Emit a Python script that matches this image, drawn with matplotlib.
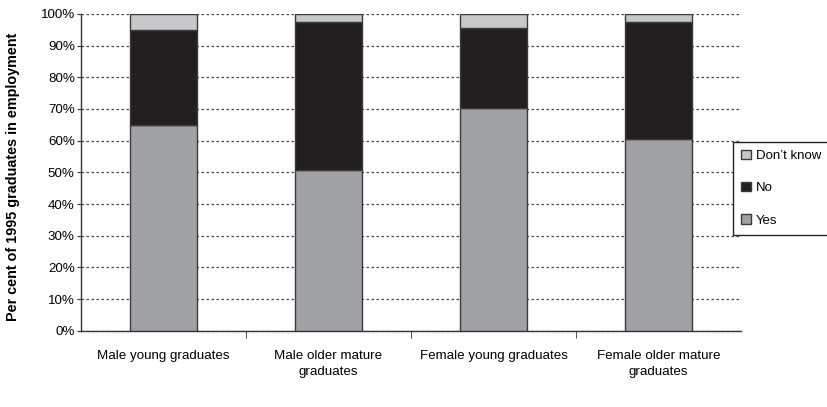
import matplotlib
matplotlib.use("Agg")
from matplotlib import pyplot as plt
from matplotlib.ticker import FixedLocator, PercentFormatter
import numpy as np

plt.rcParams['font.family'] = ['Liberation Sans', 'DejaVu Sans']

# share of 1995 graduates in employment, per cent
groups = ['Male young graduates', 'Male older mature\ngraduates',
          'Female young graduates', 'Female older mature\ngraduates']
yes = [65.0, 50.6, 70.2, 60.4]
no = [29.8, 46.7, 25.4, 36.9]
dont_know = [5.2, 2.7, 4.4, 2.7]

x = np.arange(len(groups))
fig = plt.figure(figsize=(8.27, 4.07), dpi=100)
ax = fig.add_axes([0.098, 0.187, 0.798, 0.779])

edge = dict(edgecolor='#3a3a3a', linewidth=1.0, width=0.41, zorder=3)
b_yes = ax.bar(x, yes, color='#a0a1a5', label='Yes', **edge)
b_no = ax.bar(x, no, bottom=yes, color='#231f20', label='No', **edge)
b_dk = ax.bar(x, dont_know, bottom=np.add(yes, no), color='#c6c7c8',
              label="Don\u2019t know", **edge)

ax.set_xlim(-0.5, len(groups) - 0.5)
ax.set_ylim(0, 100)
ax.set_yticks(range(0, 101, 10))
ax.yaxis.set_major_formatter(PercentFormatter(decimals=0))
ax.yaxis.grid(True, linestyle=(0, (2, 2)), color='#444444', linewidth=0.9, zorder=0)
ax.set_axisbelow(True)

ax.set_xticks(x)
ax.set_xticklabels(groups, fontsize=9.6, linespacing=1.45)
ax.tick_params(axis='x', which='major', length=0, pad=14)
ax.xaxis.set_minor_locator(FixedLocator([0.5, 1.5, 2.5]))
ax.tick_params(axis='x', which='minor', length=5, direction='out', color='#333333')
ax.tick_params(axis='y', length=3, pad=1.5, direction='out', labelsize=9.6,
               color='#333333')

for side in ['top', 'right']:
    ax.spines[side].set_visible(False)
for side in ['left', 'bottom']:
    ax.spines[side].set_color('#333333')
    ax.spines[side].set_linewidth(1.0)

ax.set_ylabel('Per cent of 1995 graduates in employment', fontsize=10.4,
              fontweight='bold')
ax.yaxis.set_label_coords(-0.092, 0.487)

leg = fig.legend(handles=[b_dk, b_no, b_yes], loc='upper left',
                 bbox_to_anchor=(0.886, 0.652), fontsize=9.5,
                 handlelength=0.7, handleheight=0.7, handletextpad=0.4,
                 labelspacing=1.5, borderpad=0.65, borderaxespad=0,
                 fancybox=False, edgecolor='#222222', framealpha=1)
leg.get_frame().set_linewidth(1.0)

fig.savefig('out.png', dpi=100)
